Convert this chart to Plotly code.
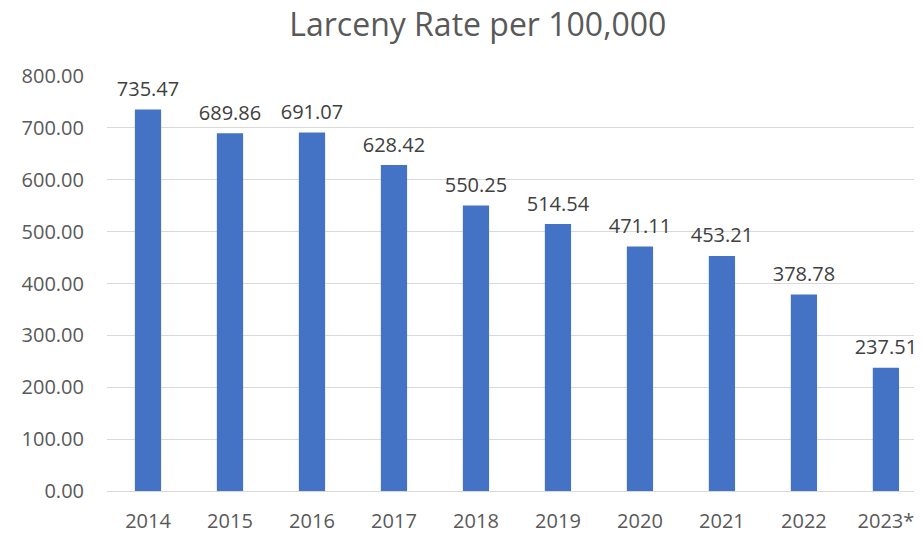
import plotly.graph_objects as go

years = ["2014", "2015", "2016", "2017", "2018", "2019", "2020", "2021", "2022", "2023*"]
rates = [735.47, 689.86, 691.07, 628.42, 550.25, 514.54, 471.11, 453.21, 378.78, 237.51]
y_ticks = [0, 100, 200, 300, 400, 500, 600, 700, 800]

FONT = "Open Sans"
GREY = "#595959"

# the page body adds 8px on the top/left, so the figure is 8px smaller
fig = go.Figure()
fig.add_trace(
    go.Bar(
        x=years,
        y=rates,
        marker=dict(color="#4472C4", line=dict(width=0)),
        hoverinfo="x+y",
    )
)
# value labels above the bars
fig.add_trace(
    go.Scatter(
        x=years,
        y=rates,
        mode="markers+text",
        marker=dict(size=12, opacity=0),
        text=[f"{v:.2f}" for v in rates],
        textposition="top center",
        textfont=dict(family=FONT, size=20, color="#404040"),
        cliponaxis=False,
        hoverinfo="skip",
    )
)
fig.update_layout(
    width=914,
    height=525,
    margin=dict(l=99, r=0, t=68, b=42),
    paper_bgcolor="white",
    plot_bgcolor="white",
    bargap=0.68,
    showlegend=False,
    title=dict(
        text="Larceny Rate per 100,000",
        x=0.514,
        xanchor="center",
        y=0.968,
        yanchor="middle",
        font=dict(family=FONT, size=32, color=GREY),
    ),
    font=dict(family=FONT, color=GREY),
)
fig.update_xaxes(
    range=[-0.5, 9.44],
    showgrid=False,
    showline=False,
    ticks="",
    tickfont=dict(family=FONT, size=20, color=GREY),
    ticklabelstandoff=16,
)
fig.update_yaxes(
    range=[0, 800],
    tickvals=y_ticks,
    ticktext=[f"{v:.2f}" for v in y_ticks],
    showgrid=True,
    gridcolor="#D9D9D9",
    gridwidth=1,
    zeroline=True,
    zerolinecolor="#D9D9D9",
    zerolinewidth=1,
    showline=False,
    ticks="",
    ticklabelstandoff=22,
    tickfont=dict(family=FONT, size=20, color=GREY),
)

fig.write_html("out.html")
